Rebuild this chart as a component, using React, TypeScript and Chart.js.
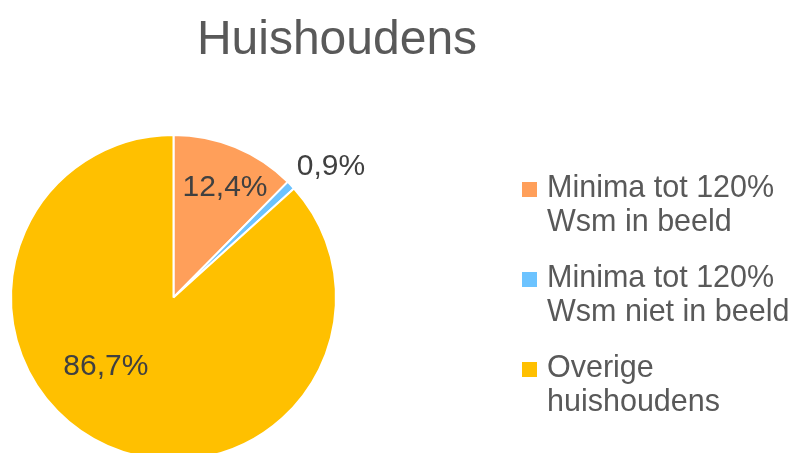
import React, { useEffect, useRef } from "react";
import { Chart, registerables } from "chart.js";

Chart.register(...registerables);

const titleText = "Huishoudens";
const categories = [
  ["Minima tot 120%", "Wsm in beeld"],
  ["Minima tot 120%", "Wsm niet in beeld"],
  ["Overige", "huishoudens"],
];
const values = [12.4, 0.9, 86.7];
const valueLabels = ["12,4%", "0,9%", "86,7%"];
const colors = ["#FF9F5A", "#6CC3FF", "#FFC000"];
// label placement: fraction along the slice angle, fraction of radius
const labelAngleFrac = [0.56, 1.65, 0.567];
const labelRadiusFrac = [0.75, 1.265, 0.59];

const FONT = '"Liberation Sans", Arial, sans-serif';

const overlayPlugin = {
  id: "overlay",
  afterDatasetsDraw(chart: any) {
    const ctx = chart.ctx;
    const meta = chart.getDatasetMeta(0);
    ctx.save();
    // title
    ctx.fillStyle = "#595959";
    ctx.font = `48px ${FONT}`;
    ctx.textAlign = "center";
    ctx.textBaseline = "alphabetic";
    ctx.fillText(titleText, 337, 54);

    // data labels
    ctx.font = `30px ${FONT}`;
    ctx.fillStyle = "#404040";
    ctx.textBaseline = "middle";
    meta.data.forEach((arc: any, i: number) => {
      const p = arc.getProps(["x", "y", "startAngle", "endAngle", "outerRadius"], true);
      const a = p.startAngle + (p.endAngle - p.startAngle) * labelAngleFrac[i];
      const r = p.outerRadius * labelRadiusFrac[i];
      ctx.fillText(valueLabels[i], p.x + Math.cos(a) * r, p.y + Math.sin(a) * r + 1);
    });

    // legend
    ctx.font = `30.5px ${FONT}`;
    ctx.textAlign = "left";
    ctx.textBaseline = "alphabetic";
    const lx = 522;
    const tx = 547;
    let base = 197;
    categories.forEach((lines, i) => {
      ctx.fillStyle = colors[i];
      ctx.fillRect(lx, base - 15, 15, 15);
      ctx.fillStyle = "#595959";
      lines.forEach((ln, j) => ctx.fillText(ln, tx, base + j * 34));
      base += 90;
    });
    ctx.restore();
  },
};

export default function App() {
  const ref = useRef<HTMLCanvasElement>(null);
  useEffect(() => {
    const chart = new Chart(ref.current!, {
      type: "pie",
      data: {
        labels: categories.map((c) => c.join(" ")),
        datasets: [
          {
            data: values,
            backgroundColor: colors,
            borderColor: "#FFFFFF",
            borderWidth: 2,
            hoverOffset: 0,
            offset: 0,
          },
        ],
      },
      options: {
        responsive: false,
        animation: false,
        devicePixelRatio: 1,
        layout: { padding: { left: 10, top: 134, right: 455, bottom: 9 } },
        plugins: {
          legend: { display: false },
          title: { display: false },
          tooltip: { enabled: false },
        },
        events: [],
      },
      plugins: [overlayPlugin],
    });
    return () => chart.destroy();
  }, []);
  return (
    <div
      style={{
        position: "absolute",
        left: 0,
        top: 0,
        width: 792,
        height: 453,
        overflow: "hidden",
        background: "#FFFFFF",
      }}
    >
      <canvas ref={ref} width={792} height={470} style={{ display: "block" }} />
    </div>
  );
}
